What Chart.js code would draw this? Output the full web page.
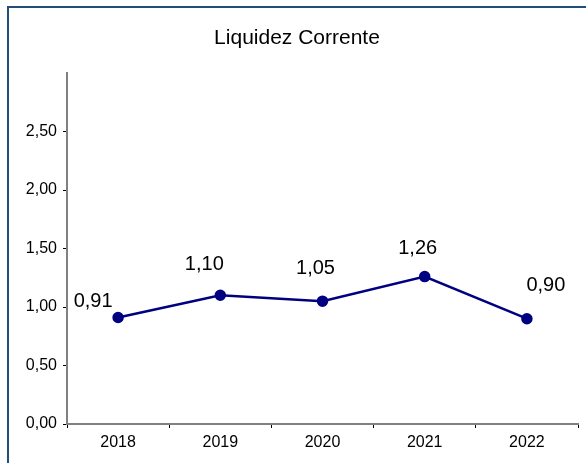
<!DOCTYPE html>
<html>
<head>
<meta charset="utf-8">
<script src="https://cdn.jsdelivr.net/npm/chart.js@4/dist/chart.umd.min.js"></script>
<style>
    html, body { margin: 0; padding: 0; background: #fff; }
    #wrap { position: relative; width: 586px; height: 463px; }
</style>
</head>
<body>
<div id="wrap"><canvas id="chart" width="586" height="463"></canvas></div>
<script>
    // Chart data
    const years = ['2018', '2019', '2020', '2021', '2022'];
    const liquidez = [0.91, 1.10, 1.05, 1.26, 0.90];
    const yTicks = [0, 0.5, 1, 1.5, 2, 2.5];
    const chartTitle = 'Liquidez Corrente';

    // label nudges (px) so the values sit like in the original
    const labelShift = [[-25, -16], [-16, -31], [-7, -33], [-7, -28], [19, -33]];

    const fontFamily = '"Liberation Sans", Arial, sans-serif';
    const fmt = v => v.toFixed(2).replace('.', ',');

    // frame + title + point labels
    const decorPlugin = {
        id: 'decor',
        afterDraw(chart) {
            const ctx = chart.ctx;
            ctx.save();
            ctx.strokeStyle = '#1f4e79';
            ctx.lineWidth = 2;
            ctx.beginPath();
            ctx.moveTo(8, 463);
            ctx.lineTo(8, 7);
            ctx.lineTo(586, 7);
            ctx.stroke();

            ctx.fillStyle = '#000';
            ctx.textAlign = 'center';
            ctx.textBaseline = 'middle';
            ctx.font = '21px ' + fontFamily;
            ctx.fillText(chartTitle, 297, 38);

            ctx.font = '20px ' + fontFamily;
            const meta = chart.getDatasetMeta(0);
            meta.data.forEach((pt, i) => {
                const s = labelShift[i];
                ctx.fillText(fmt(liquidez[i]), pt.x + s[0], pt.y + s[1]);
            });
            ctx.restore();
        }
    };

    new Chart(document.getElementById('chart'), {
        type: 'line',
        data: {
            labels: years,
            datasets: [{
                data: liquidez,
                borderColor: '#000080',
                backgroundColor: '#000080',
                borderWidth: 2.5,
                pointRadius: 4.5,
                pointBackgroundColor: '#000080',
                pointBorderColor: '#000080',
                tension: 0
            }]
        },
        options: {
            responsive: false,
            animation: false,
            layout: { padding: { left: 0, right: 8, top: 73, bottom: 0 } },
            plugins: {
                legend: { display: false },
                title: { display: false },
                tooltip: { enabled: false }
            },
            scales: {
                x: {
                    offset: true,
                    grid: {
                        offset: true,
                        drawOnChartArea: false,
                        drawTicks: true,
                        tickLength: 4,
                        color: '#000'
                    },
                    border: { display: true, color: '#808080', width: 2 },
                    ticks: {
                        color: '#000',
                        font: { family: fontFamily, size: 16 },
                        padding: 5,
                        maxRotation: 0
                    },
                    afterFit(scale) { scale.height = 39; }
                },
                y: {
                    min: 0,
                    max: 3,
                    afterBuildTicks(scale) {
                        scale.ticks = yTicks.map(v => ({ value: v }));
                    },
                    grid: {
                        drawOnChartArea: false,
                        drawTicks: true,
                        tickLength: 4,
                        color: '#000'
                    },
                    border: { display: true, color: '#808080', width: 2 },
                    ticks: {
                        color: '#000',
                        font: { family: fontFamily, size: 16 },
                        padding: 6,
                        callback: v => fmt(v)
                    },
                    afterFit(scale) { scale.width = 67; }
                }
            }
        },
        plugins: [decorPlugin]
    });
</script>
</body>
</html>
